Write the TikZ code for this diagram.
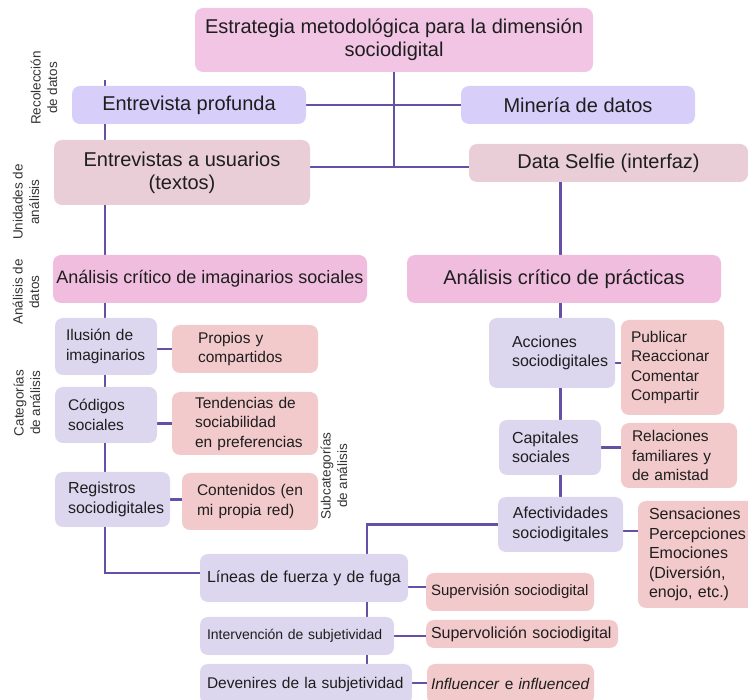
\documentclass[tikz,border=0pt]{standalone}
\usepackage{fontspec}
\setmainfont{Liberation Sans}
\hyphenpenalty=10000
\exhyphenpenalty=10000

\pgfdeclarelayer{background}
\pgfsetlayers{background,main}

\definecolor{cTop}{HTML}{F2C5E5}
\definecolor{cPink}{HTML}{F1BDDE}
\definecolor{cLavA}{HTML}{D7CEFA}
\definecolor{cLavB}{HTML}{DCD6EE}
\definecolor{cMauve}{HTML}{E9CED8}
\definecolor{cSalmon}{HTML}{F3CACB}
\definecolor{cLine}{HTML}{6650A6}
\definecolor{cText}{HTML}{1E1E1E}
\definecolor{cLab}{HTML}{333333}

\tikzset{
  box/.style={rectangle, rounded corners=8pt, inner sep=0pt, outer sep=0pt, text=cText},
  fA/.style={font=\fontsize{20}{23}\selectfont},
  fB/.style={font=\fontsize{18}{21}\selectfont},
  fC/.style={font=\fontsize{16}{19.5}\selectfont},
  fD/.style={font=\fontsize{15.5}{19.5}\selectfont},
  fE/.style={font=\fontsize{15}{18}\selectfont},
  fF/.style={font=\fontsize{14}{17}\selectfont},
  sidelabel/.style={rotate=90, align=center, text=cLab, inner sep=0pt,
    font=\fontsize{13.5}{16.5}\selectfont},
  conn/.style={draw=cLine, line width=2.4pt},
}

\begin{document}
\begin{tikzpicture}[x=1pt, y=-1pt]
\useasboundingbox (0,0) rectangle (748,700);
\clip (0,0) rectangle (748,700);

% top level and data collection
\node[box, fill=cTop, fA, minimum width=398pt, minimum height=64pt, align=center]
  (top) at (394,40) {Estrategia metodológica para la dimensión\\sociodigital};
\node[box, fill=cLavA, fA, minimum width=234pt, minimum height=38pt]
  (ep) at (189,105) {Entrevista profunda};
\node[box, fill=cLavA, fA, minimum width=234pt, minimum height=38pt]
  (md) at (578,105) {Minería de datos};

% units of analysis
\node[box, fill=cMauve, fA, minimum width=256pt, minimum height=65pt, align=center]
  (eu) at (182,172.5) {Entrevistas a usuarios\\(textos)};
\node[box, fill=cMauve, fA, minimum width=279pt, minimum height=38pt]
  (ds) at (608.5,163) {Data Selfie (interfaz)};

% data analysis
\node[box, fill=cPink, fB, minimum width=314pt, minimum height=48pt]
  (aci) at (210,279) {Análisis crítico de imaginarios sociales};
\node[box, fill=cPink, fA, minimum width=314pt, minimum height=48pt]
  (acp) at (564,279) {Análisis crítico de prácticas};

% left column: categories and subcategories
\node[box, fill=cLavB, fD, minimum width=102pt, minimum height=57pt, text width=80pt, align=left]
  (ilu) at (106,346.5) {Ilusión de\\imaginarios};
\node[box, fill=cSalmon, fD, minimum width=146pt, minimum height=48pt, text width=94pt, align=left]
  (prop) at (245,349) {Propios y\\compartidos};
\node[box, fill=cLavB, fD, minimum width=102pt, minimum height=56pt, text width=76pt, align=left]
  (cod) at (106,415) {Códigos\\sociales};
\node[box, fill=cSalmon, fD, minimum width=146pt, minimum height=63pt, text width=100pt, align=left]
  (ten) at (245,423.5) {\mbox{Tendencias de}\\sociabilidad\\\mbox{en preferencias}};
\node[box, fill=cLavB, fC, minimum width=115pt, minimum height=55pt, text width=89pt, align=left]
  (reg) at (112.5,499.5) {Registros\\sociodigitales};
\node[box, fill=cSalmon, fD, minimum width=136pt, minimum height=57pt, text width=106pt, align=left]
  (con) at (250,501.5) {\mbox{Contenidos (en}\\\mbox{mi propia red)}};

% right column: categories and subcategories
\node[box, fill=cLavB, fC, minimum width=126pt, minimum height=70pt, text width=80pt, align=left]
  (acc) at (552,353) {Acciones\\sociodigitales};
\node[box, fill=cSalmon, fD, minimum width=103pt, minimum height=95pt, text width=83pt, align=left]
  (pub) at (672.5,367.5) {Publicar\\Reaccionar\\Comentar\\Compartir};
\node[box, fill=cLavB, fC, minimum width=102pt, minimum height=55pt, text width=76pt, align=left]
  (cap) at (550,447.5) {Capitales\\sociales};
\node[box, fill=cSalmon, fD, minimum width=116pt, minimum height=65pt, text width=94pt, align=left]
  (rel) at (679,455.5) {Relaciones\\\mbox{familiares y}\\\mbox{de amistad}};
\node[box, fill=cLavB, fC, minimum width=125pt, minimum height=55pt, align=center]
  (afe) at (560.5,524.5) {Afectividades\\sociodigitales};
\node[box, fill=cSalmon, fC, minimum width=122pt, minimum height=107pt, text width=100pt, align=left]
  (sen) at (699,554.5) {Sensaciones\\Percepciones\\Emociones\\\mbox{(Diversión,}\\\mbox{enojo, etc.)}};

% bottom: lines of force and subjectivity
\node[box, fill=cLavB, fC, minimum width=208pt, minimum height=48pt, text width=194pt, align=left]
  (lin) at (304,578) {\mbox{Líneas de fuerza y de fuga}};
\node[box, fill=cSalmon, fE, minimum width=168pt, minimum height=38pt, text width=158pt, align=left]
  (sv) at (510,592) {\mbox{Supervisión sociodigital}};
\node[box, fill=cLavB, fF, minimum width=194pt, minimum height=38pt, text width=180pt, align=left]
  (int) at (297,636) {\mbox{Intervención de subjetividad}};
\node[box, fill=cSalmon, fC, minimum width=192pt, minimum height=28pt, text width=182pt, align=left]
  (svl) at (522,634) {\mbox{Supervolición sociodigital}};
\node[box, fill=cLavB, fD, minimum width=212pt, minimum height=40pt, text width=198pt, align=left]
  (dev) at (306,684) {\mbox{Devenires de la subjetividad}};
\node[box, fill=cSalmon, fD, minimum width=167pt, minimum height=40pt, text width=159pt, align=left]
  (inf) at (510.5,684) {\mbox{\textit{Influencer} e \textit{influenced}}};

% rotated level labels
\node[sidelabel] (lrec) at (44,88)  {Recolección\\de datos};
\node[sidelabel] (luni) at (26,202) {Unidades de\\análisis};
\node[sidelabel] (lana) at (26,292) {Análisis de\\datos};
\node[sidelabel] (lcat) at (27,403) {Categorías\\de análisis};
\node[sidelabel] (lsub) at (334,476) {Subcategorías\\de análisis};

% junction points of the connectors
\coordinate (j2) at (394,167);
\coordinate (lt) at (105,80);
\coordinate (lc) at (105,573);
\coordinate (mj) at (367,525);
\coordinate (hAP) at (618,363);
\coordinate (hAS) at (630,531);
\coordinate (hLS) at (417,587);
\coordinate (hDI) at (420,683);

\begin{pgfonlayer}{background}
  \draw[conn] (top.south) -- (j2);
  \draw[conn] (ep.east) -- (md.west);
  \draw[conn] (eu.east |- j2) -- (ds.west |- j2);
  \draw[conn] (lt) -- (lc) -- (lc -| lin.west);
  \draw[conn] (ds.south -| afe.north) -- (afe.north);
  \draw[conn] (ilu.east |- prop.west) -- (prop.west);
  \draw[conn] (cod.east |- ten.west) -- (ten.west);
  \draw[conn] (reg.east) -- (con.west |- reg.east);
  \draw[conn] (acc.east |- hAP) -- (pub.west |- hAP);
  \draw[conn] (cap.east) -- (rel.west |- cap.east);
  \draw[conn] (afe.east |- hAS) -- (sen.west |- hAS);
  \draw[conn] (afe.west) -- (afe.west -| mj) -- (mj |- dev.north);
  \draw[conn] (lin.east |- hLS) -- (sv.west |- hLS);
  \draw[conn] (int.east) -- (svl.west |- int.east);
  \draw[conn] (dev.east |- hDI) -- (inf.west |- hDI);
\end{pgfonlayer}
\end{tikzpicture}
\end{document}
